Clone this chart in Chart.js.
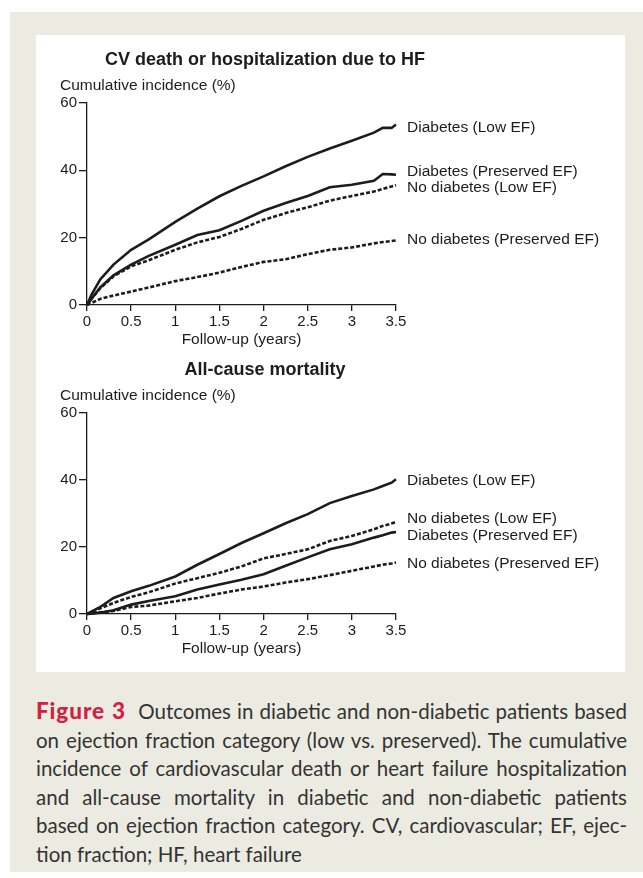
<!DOCTYPE html>
<html>
<head>
<meta charset="utf-8">
<script src="https://cdn.jsdelivr.net/npm/chart.js@4.4.1/dist/chart.umd.min.js"></script>
<style>
  body{margin:0;background:#fff;width:643px;height:878px;overflow:hidden;position:relative;}
  #outer{position:absolute;left:10px;top:12px;width:633px;height:860px;background:#ecebe1;}
  #panel{position:absolute;left:36px;top:35px;width:589px;height:637px;background:#fff;}
  .cv{position:absolute;left:36px;width:589px;}
  #c1{top:35px;height:320px;}
  #c2{top:345px;height:327px;}
  #caption{position:absolute;left:36px;top:697px;width:591px;font-family:Lato,"Open Sans",sans-serif;
    font-size:20.5px;line-height:28.6px;color:#333;}
  #caption div{text-align:justify;text-align-last:justify;white-space:nowrap;height:28.6px;}
  #caption div.last{text-align-last:left;}
  #caption b{color:#d11f45;font-weight:900;font-size:22.5px;line-height:20px;letter-spacing:0.9px;}
</style>
</head>
<body>
<div id="outer"></div>
<div id="panel"></div>
<canvas id="c1" class="cv" width="589" height="320"></canvas>
<canvas id="c2" class="cv" width="589" height="327"></canvas>
<div id="caption">
  <div><b>Figure 3</b>&nbsp; Outcomes in diabetic and non-diabetic patients based</div>
  <div>on ejection fraction category (low vs. preserved). The cumulative</div>
  <div>incidence of cardiovascular death or heart failure hospitalization</div>
  <div>and all-cause mortality in diabetic and non-diabetic patients</div>
  <div>based on ejection fraction category. CV, cardiovascular; EF, ejec-</div>
  <div class="last">tion fraction; HF, heart failure</div>
</div>
<script>
// follow-up time points (years)
const years=[0,0.05,0.15,0.3,0.5,0.7,1,1.25,1.5,1.75,2,2.25,2.5,2.75,3,3.25,3.35,3.45,3.5];
const xTicks=[0,0.5,1,1.5,2,2.5,3,3.5];
const xTickLabels=['0','0.5','1','1.5','2','2.5','3','3.5'];
const yTicks=[0,20,40,60];
const yTickLabels=['0','20','40','60'];
const seriesNames=['Diabetes (Low EF)','Diabetes (Preserved EF)','No diabetes (Low EF)','No diabetes (Preserved EF)'];
const dashed=[false,false,true,true];

// CV death or HF hospitalization (%)
const hfDiabLow =[0,3,7.6,12,16.4,19.5,24.7,28.6,32.3,35.4,38.2,41.2,44,46.5,48.8,51.2,52.6,52.6,53.6];
const hfDiabPres=[0,1.8,5.2,8.8,12,14.6,17.9,20.8,22.2,25,28,30.3,32.4,35,35.7,36.9,38.9,38.8,38.7];
const hfNoLow   =[0,1.8,5,8.5,11.5,13.3,16.4,18.6,20.2,22.6,25.3,27.3,29,31,32.4,33.7,34.5,35.2,35.6];
const hfNoPres  =[0,0.6,1.8,2.8,4,5.2,7.1,8.3,9.6,11.3,12.8,13.6,15.1,16.4,17.1,18.3,18.7,19,19.2];
const hfLabelAt =[52.8,39.5,34.7,19.3];

// all-cause mortality (%)
const mDiabLow =[0,0.7,2.1,4.8,6.8,8.4,11.2,14.7,17.9,21.2,24.1,27.1,29.8,33.1,35.2,37.2,38.2,39.2,40.2];
const mDiabPres=[0,0.1,0.4,1.1,2.8,3.9,5.3,7.3,8.8,10.2,11.9,14.4,16.9,19.3,20.8,22.8,23.5,24.3,24.5];
const mNoLow   =[0,0.5,1.7,3.3,5.1,6.5,9.1,10.7,12.3,14.2,16.6,17.9,19.3,21.8,23.3,25.3,26.3,27,27.5];
const mNoPres  =[0,0.2,0.5,0.9,2.1,2.5,3.8,4.8,6.1,7.3,8.2,9.4,10.4,11.6,12.9,14.2,14.7,15.1,15.4];
const mLabelAt =[39.8,23.4,28.5,15.1];

const INK='#1c1c1c';
const FONT='"Liberation Sans", Arial, sans-serif';

const overlay={
  id:'overlay',
  afterDraw(chart,args,opts){
    const ctx=chart.ctx, a=chart.chartArea, ys=chart.scales.y;
    ctx.save();
    ctx.fillStyle=INK;
    ctx.textBaseline='middle';
    ctx.font='bold 18px '+FONT;
    ctx.textAlign='center';
    ctx.fillText(opts.title,a.left+178,a.top-43);
    ctx.font='15.5px '+FONT;
    ctx.textAlign='left';
    ctx.fillText('Cumulative incidence (%)',a.left-27,a.top-17);
    ctx.textAlign='center';
    ctx.fillText('Follow-up (years)',(a.left+a.right)/2,a.bottom+35);
    ctx.textAlign='left';
    opts.names.forEach((n,i)=>ctx.fillText(n,a.right+11,ys.getPixelForValue(opts.at[i])));
    ctx.restore();
  }
};

function build(id,title,vals,labelAt,xHeight){
  const ds=vals.map((v,i)=>({
    label:seriesNames[i],
    data:years.map((x,k)=>({x:x,y:v[k]})),
    borderColor:INK,borderWidth:2.6,borderDash:dashed[i]?[4,2]:[],
    pointRadius:0,tension:0,fill:false,clip:false
  }));
  return new Chart(document.getElementById(id),{
    type:'line',
    data:{datasets:ds},
    plugins:[overlay],
    options:{
      responsive:false,animation:false,
      layout:{padding:{left:0,right:229,top:68,bottom:0}},
      plugins:{legend:{display:false},tooltip:{enabled:false},
        overlay:{title:title,names:seriesNames,at:labelAt}},
      scales:{
        x:{type:'linear',min:0,max:3.5,
          afterBuildTicks:s=>{s.ticks=xTicks.map(v=>({value:v}));},
          afterFit:s=>{s.height=xHeight;},
          ticks:{color:INK,font:{family:FONT,size:15},padding:2,maxRotation:0,
            callback:(v,i)=>xTickLabels[i]},
          grid:{drawOnChartArea:false,drawTicks:true,tickLength:6,color:INK,lineWidth:1.3},
          border:{display:true,color:INK,width:1.3}},
        y:{type:'linear',min:0,max:60,
          afterBuildTicks:s=>{s.ticks=yTicks.map(v=>({value:v}));},
          afterFit:s=>{s.width=51;},
          ticks:{color:INK,font:{family:FONT,size:15},padding:2,
            callback:(v,i)=>yTickLabels[i]},
          grid:{drawOnChartArea:false,drawTicks:true,tickLength:8,color:INK,lineWidth:1.3},
          border:{display:true,color:INK,width:1.3}}
      }
    }
  });
}

document.fonts.load('15px "Liberation Sans"').then(()=>document.fonts.load('bold 18px "Liberation Sans"')).finally(()=>{
  build('c1','CV death or hospitalization due to HF',[hfDiabLow,hfDiabPres,hfNoLow,hfNoPres],hfLabelAt,50);
  build('c2','All-cause mortality',[mDiabLow,mDiabPres,mNoLow,mNoPres],mLabelAt,58);
});
</script>
</body>
</html>
